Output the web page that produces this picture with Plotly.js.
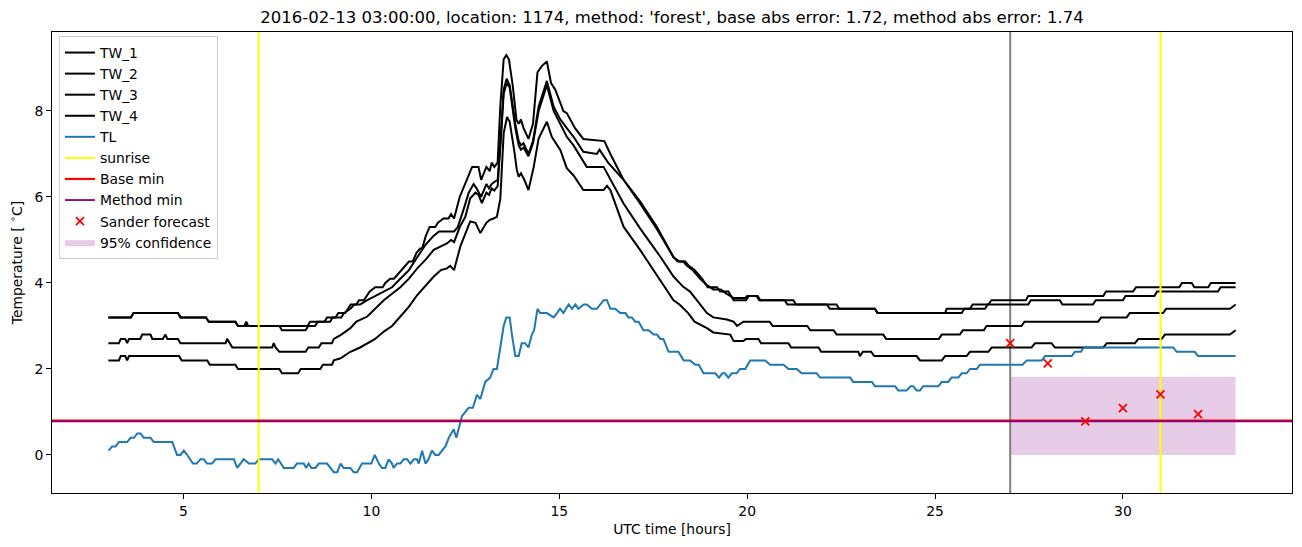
<!DOCTYPE html>
<html>
<head>
<meta charset="utf-8">
<script src="https://cdn.plot.ly/plotly-3.0.1.min.js"></script>
<style>html,body{margin:0;padding:0;background:#fff;}#chart{width:1302px;height:547px;}</style>
</head>
<body>
<div id="chart"></div>
<script>
// ---------------- data ----------------
const tw1T = [3.0,3.6,3.67,4.85,4.92,5.6,5.67,6.38,6.45,6.62,6.67,6.72,8.3,8.37,8.75,8.82,9.05,9.12,9.3,9.37,9.45,9.6,9.67,9.8,9.87,9.95,10.1,10.3,10.37,10.5,10.6,10.7,10.8,10.9,11.0,11.1,11.2,11.3,11.35,11.45,11.55,11.7,11.77,11.92,12.05,12.12,12.2,12.35,12.54,12.68,12.77,12.85,12.92,13.06,13.15,13.2,13.27,13.36,13.43,13.52,13.59,13.66,13.76,13.86,13.92,13.98,14.05,14.18,14.3,14.42,14.54,14.67,14.78,14.89,14.98,15.11,15.2,15.42,15.64,16.2,16.36,16.71,17.15,17.6,18.04,18.15,18.3,18.4,18.55,18.75,18.93,19.1,19.3,19.45,19.64,19.95,20.0,20.28,20.35,21.23,21.3,22.12,22.2,23.4,23.47,25.27,25.31,25.93,26.0,26.42,26.5,27.42,27.48,29.48,29.55,30.27,30.35,31.5,31.57,31.83,31.9,32.27,32.34,33.0];
const tw1V = [3.2,3.2,3.3,3.3,3.2,3.2,3.1,3.1,3.0,3.0,3.1,3.0,3.0,3.1,3.1,3.2,3.2,3.3,3.3,3.4,3.5,3.5,3.6,3.6,3.7,3.8,3.9,3.9,4.0,4.1,4.1,4.2,4.3,4.4,4.5,4.5,4.7,4.8,4.8,5.1,5.3,5.3,5.4,5.5,5.5,5.6,5.5,6.0,6.4,6.7,6.7,6.7,6.4,6.7,6.6,6.8,6.7,6.8,8.1,9.2,9.3,9.2,8.6,7.8,7.7,7.8,7.6,7.35,7.7,8.9,9.05,9.15,8.65,8.5,8.3,8.0,7.95,7.6,7.35,7.3,7.0,6.4,5.9,5.3,4.6,4.5,4.5,4.4,4.3,4.1,3.95,3.85,3.85,3.75,3.65,3.65,3.7,3.7,3.6,3.6,3.5,3.5,3.4,3.4,3.3,3.3,3.4,3.4,3.5,3.5,3.6,3.6,3.7,3.7,3.8,3.8,3.9,3.9,4.0,4.0,3.9,3.9,4.0,4.0];

const tw2T = [3.0,3.6,3.67,4.85,4.92,5.6,5.67,6.38,6.45,7.55,7.62,8.25,8.32,8.5,8.57,8.9,8.97,9.2,9.27,9.44,9.55,9.7,9.89,10.1,10.33,10.55,10.77,11.0,11.22,11.45,11.66,11.8,12.2,12.3,12.45,12.59,12.72,12.8,12.92,13.06,13.13,13.2,13.27,13.36,13.45,13.52,13.6,13.68,13.83,13.92,13.98,14.05,14.18,14.3,14.45,14.67,14.85,15.03,15.2,15.38,15.64,16.0,16.07,16.15,16.3,16.71,17.15,17.6,18.04,18.2,18.35,18.45,18.6,18.8,18.95,19.2,19.28,19.5,19.64,19.97,20.04,20.25,20.32,21.0,21.07,22.38,22.45,23.4,23.47,25.71,25.78,26.33,26.4,27.48,27.55,28.32,28.39,29.2,29.28,30.0,30.07,30.84,30.91,32.53,32.6,33.0];
const tw2V = [3.2,3.2,3.3,3.3,3.2,3.2,3.1,3.1,3.0,3.0,2.9,2.9,3.0,3.0,3.1,3.1,3.2,3.2,3.3,3.4,3.5,3.5,3.6,3.7,3.8,3.9,4.1,4.3,4.6,4.9,5.1,5.2,5.2,5.3,5.7,6.1,6.3,6.2,6.0,6.3,6.2,6.3,6.35,6.4,7.5,8.5,8.75,8.6,7.7,7.3,7.2,7.25,7.0,7.3,8.1,8.7,8.1,7.8,7.6,7.4,7.05,7.0,7.1,7.0,6.8,6.4,5.85,5.25,4.6,4.5,4.5,4.4,4.3,4.1,3.9,3.9,3.8,3.8,3.6,3.6,3.7,3.7,3.6,3.6,3.5,3.5,3.4,3.4,3.3,3.3,3.4,3.4,3.5,3.5,3.6,3.6,3.5,3.5,3.6,3.6,3.7,3.7,3.8,3.8,3.9,3.9];

const tw3T = [3.0,3.28,3.33,3.45,3.5,3.55,3.85,3.9,4.12,4.17,4.45,4.52,4.57,4.85,4.92,6.12,6.16,6.22,6.3,7.36,7.4,7.45,7.55,8.25,8.32,8.6,8.67,8.95,9.0,9.2,9.44,9.6,9.89,10.1,10.33,10.55,10.77,11.0,11.22,11.45,11.66,12.01,12.12,12.2,12.35,12.5,12.63,12.77,12.85,12.94,13.06,13.13,13.2,13.27,13.36,13.45,13.52,13.6,13.68,13.83,13.92,13.98,14.05,14.18,14.3,14.45,14.67,14.85,15.03,15.2,15.38,15.64,15.73,16.18,16.3,16.71,17.15,17.69,18.04,18.3,18.48,18.7,18.93,19.1,19.46,19.64,19.73,19.9,20.6,20.68,21.6,21.68,22.3,22.38,23.62,23.7,25.1,25.18,25.66,25.74,26.3,26.37,27.3,27.38,29.34,29.42,30.1,30.18,31.07,31.15,32.85,33.0];
const tw3V = [2.6,2.6,2.7,2.7,2.6,2.7,2.7,2.8,2.8,2.7,2.7,2.8,2.7,2.7,2.6,2.6,2.7,2.6,2.5,2.5,2.6,2.5,2.4,2.4,2.5,2.5,2.6,2.6,2.7,2.8,2.95,3.1,3.22,3.4,3.6,3.75,3.9,4.1,4.34,4.55,4.77,4.92,5.0,4.95,5.3,5.54,5.97,6.1,6.05,5.86,6.1,6.05,6.2,6.15,6.25,7.4,8.4,8.65,8.55,7.6,7.2,7.1,7.15,6.95,7.25,8.0,8.6,8.0,7.7,7.4,7.2,6.85,6.7,6.7,6.5,5.85,5.27,4.61,4.15,3.91,3.8,3.55,3.3,3.2,3.15,3.1,3.0,3.1,3.1,3.0,3.0,2.9,2.9,2.8,2.8,2.7,2.7,2.8,2.8,2.9,2.9,3.0,3.0,3.1,3.1,3.2,3.2,3.3,3.3,3.4,3.4,3.5];

const tw4T = [3.0,3.28,3.33,3.45,3.5,3.55,4.88,4.95,5.63,5.7,6.38,6.45,7.55,7.62,8.05,8.12,8.64,8.71,8.95,9.0,9.18,9.44,9.7,9.89,10.1,10.33,10.55,10.77,11.0,11.22,11.45,11.66,11.85,12.01,12.1,12.2,12.37,12.5,12.63,12.77,12.9,13.06,13.15,13.25,13.34,13.43,13.52,13.61,13.68,13.8,13.87,13.92,13.98,14.07,14.18,14.32,14.45,14.67,14.8,15.03,15.2,15.38,15.64,16.18,16.27,16.36,16.71,17.15,17.69,18.04,18.2,18.43,18.6,18.93,19.1,19.55,19.64,19.9,19.97,20.3,20.37,21.1,21.17,21.9,21.97,22.96,23.0,23.08,23.3,23.38,24.51,24.6,25.18,25.27,25.84,25.93,26.42,26.51,27.57,27.66,28.1,28.19,29.48,29.57,30.32,30.41,31.03,31.12,32.85,33.0];
const tw4V = [2.2,2.2,2.3,2.3,2.2,2.3,2.3,2.2,2.2,2.1,2.1,2.0,2.0,1.9,1.9,2.0,2.0,2.1,2.1,2.2,2.25,2.4,2.5,2.6,2.7,2.87,3.0,3.22,3.45,3.72,3.95,4.15,4.3,4.34,4.4,4.3,4.86,5.16,5.43,5.4,5.16,5.4,5.47,5.5,5.54,5.95,7.48,7.86,7.75,7.09,6.63,6.47,6.55,6.4,6.16,6.7,7.36,7.75,7.4,7.09,6.67,6.5,6.16,6.16,6.26,6.16,5.31,4.77,4.07,3.6,3.5,3.3,3.1,2.95,2.85,2.8,2.65,2.65,2.7,2.7,2.6,2.6,2.5,2.5,2.4,2.4,2.3,2.4,2.4,2.3,2.3,2.2,2.2,2.3,2.3,2.4,2.4,2.5,2.5,2.6,2.6,2.5,2.5,2.6,2.6,2.7,2.7,2.8,2.8,2.9];

const tlT = [3.01,3.10,3.19,3.28,3.50,3.59,3.68,3.77,3.86,3.94,4.12,4.21,4.70,4.83,4.92,5.01,5.10,5.25,5.35,5.45,5.54,5.63,5.76,5.85,6.34,6.43,6.60,6.74,6.91,7.00,7.36,7.45,7.52,7.67,7.93,8.02,8.20,8.26,8.33,8.40,8.51,8.60,8.82,9.00,9.09,9.18,9.26,9.44,9.53,9.62,9.75,10.00,10.09,10.20,10.28,10.37,10.46,10.55,10.59,10.68,10.77,10.86,10.95,11.04,11.13,11.21,11.26,11.35,11.44,11.52,11.61,11.70,11.79,11.88,11.97,12.06,12.19,12.26,12.35,12.41,12.50,12.59,12.70,12.81,12.90,13.03,13.16,13.25,13.34,13.43,13.52,13.59,13.68,13.74,13.83,13.92,14.00,14.09,14.18,14.27,14.33,14.42,14.49,14.67,14.85,14.94,15.02,15.11,15.25,15.34,15.43,15.51,15.65,15.73,15.87,16.00,16.09,16.18,16.27,16.36,16.49,16.62,16.76,16.84,16.93,17.02,17.11,17.24,17.38,17.51,17.60,17.69,17.77,17.91,18.17,18.31,18.48,18.62,18.71,18.84,19.15,19.25,19.34,19.41,19.50,19.59,19.72,19.81,19.95,20.08,20.48,20.61,20.97,21.10,21.32,21.45,21.85,21.94,22.74,22.82,23.32,23.40,23.94,24.02,24.24,24.35,24.42,24.51,24.60,24.68,25.09,25.18,25.35,25.44,25.62,25.71,25.84,25.93,26.11,26.20,27.33,27.44,27.84,27.93,28.64,28.72,28.88,28.96,31.34,31.43,31.91,32.00,33.0];
const tlV = [0.1,0.2,0.2,0.3,0.3,0.4,0.4,0.5,0.5,0.4,0.4,0.3,0.3,0.0,0.0,0.1,0.0,-0.2,-0.2,-0.1,-0.1,-0.2,-0.2,-0.1,-0.1,-0.3,-0.1,-0.2,-0.2,-0.1,-0.1,-0.2,-0.1,-0.3,-0.3,-0.2,-0.2,-0.3,-0.2,-0.3,-0.3,-0.2,-0.2,-0.4,-0.4,-0.2,-0.3,-0.3,-0.4,-0.4,-0.2,-0.2,0.0,-0.2,-0.3,-0.3,-0.1,-0.2,-0.3,-0.2,-0.2,-0.1,-0.1,-0.2,-0.1,-0.1,-0.2,0.1,-0.2,-0.1,0.1,0.0,0.0,0.1,0.2,0.4,0.6,0.4,0.7,0.9,1.0,1.1,1.1,1.4,1.3,1.7,1.8,2.0,2.0,2.5,3.0,3.2,3.2,2.8,2.3,2.3,2.6,2.6,2.5,2.8,2.9,3.4,3.3,3.3,3.2,3.3,3.4,3.3,3.5,3.4,3.5,3.4,3.5,3.5,3.4,3.4,3.5,3.6,3.6,3.4,3.4,3.3,3.3,3.2,3.2,3.1,3.1,2.9,2.9,2.8,2.8,2.7,2.7,2.4,2.4,2.2,2.2,2.1,2.1,1.9,1.9,1.8,1.9,1.9,1.8,1.9,1.9,2.0,2.0,2.2,2.2,2.1,2.1,2.0,2.0,1.9,1.9,1.8,1.8,1.7,1.7,1.6,1.6,1.5,1.5,1.6,1.6,1.5,1.5,1.6,1.6,1.7,1.7,1.8,1.8,1.9,1.9,2.0,2.0,2.1,2.1,2.2,2.2,2.3,2.3,2.4,2.4,2.5,2.5,2.4,2.4,2.3,2.3];

const sunriseHours = [7, 31];
const forecastStart = 27;
const baseMin = 0.8;
const methodMin = 0.78;
const sanderHours = [27, 28, 29, 30, 31, 32];
const sanderValues = [2.6, 2.13, 0.78, 1.09, 1.41, 0.95];
const confHours = [27, 33];
const confLow = 0.0;
const confHigh = 1.82;

const xTicks = [5, 10, 15, 20, 25, 30];
const yTicks = [0, 2, 4, 6, 8];

// ---------------- chart ----------------
const X_RANGE = [1.5, 34.5];
const Y_RANGE = [-0.884, 9.837];
const FONT = 'DejaVu Sans, sans-serif';

const traces = [];
traces.push({
  x: [confHours[0], confHours[1], confHours[1], confHours[0], confHours[0]],
  y: [confLow, confLow, confHigh, confHigh, confLow],
  mode: 'lines', fill: 'toself', fillcolor: 'rgba(128,0,128,0.2)',
  line: {width: 0, color: 'rgba(128,0,128,0)'},
  name: '95% confidence', legendrank: 10
});
traces.push({
  x: [forecastStart, forecastStart], y: Y_RANGE, mode: 'lines',
  line: {color: '#808080', width: 2}, showlegend: false
});
const tws = [[tw1T, tw1V], [tw2T, tw2V], [tw3T, tw3V], [tw4T, tw4V]];
tws.forEach((s, i) => traces.push({
  x: s[0], y: s[1], mode: 'lines', name: 'TW_' + (i + 1),
  line: {color: '#000000', width: 2}, legendrank: i + 1
}));
traces.push({x: tlT, y: tlV, mode: 'lines', name: 'TL',
  line: {color: '#1f77b4', width: 2}, legendrank: 5});
const sx = [], sy = [];
sunriseHours.forEach((h, i) => { if (i) { sx.push(null); sy.push(null); } sx.push(h, h); sy.push(Y_RANGE[0], Y_RANGE[1]); });
traces.push({x: sx, y: sy, mode: 'lines', name: 'sunrise',
  line: {color: '#ffff00', width: 2}, legendrank: 6});
traces.push({x: X_RANGE, y: [baseMin, baseMin], mode: 'lines', name: 'Base min',
  line: {color: '#ff0000', width: 2.2}, legendrank: 7});
traces.push({x: X_RANGE, y: [methodMin, methodMin], mode: 'lines', name: 'Method min',
  line: {color: '#800080', width: 1.8}, legendrank: 8});
traces.push({x: sanderHours, y: sanderValues, mode: 'markers', name: 'Sander forecast',
  marker: {symbol: 'x-thin', size: 8, color: '#ff0000', line: {color: '#ff0000', width: 1.8}}, legendrank: 9});

const axisCommon = {
  showline: true, mirror: true, linecolor: '#000', linewidth: 1,
  ticks: 'outside', ticklen: 5, tickwidth: 1, tickcolor: '#000',
  showgrid: false, zeroline: false, tickfont: {size: 13.9, color: '#000', family: FONT}
};

const layout = {
  width: 1302, height: 547,
  margin: {l: 52, r: 10, t: 32, b: 54},
  paper_bgcolor: '#fff', plot_bgcolor: '#fff',
  font: {family: FONT, color: '#000'},
  title: {
    text: "2016-02-13 03:00:00, location: 1174, method: 'forest', base abs error: 1.72, method abs error: 1.74",
    font: {size: 16.5, family: FONT, color: '#000'},
    x: 0.5, xref: 'paper', xanchor: 'center', y: 1 - 17 / 547, yref: 'container', yanchor: 'middle'
  },
  xaxis: Object.assign({}, axisCommon, {
    range: X_RANGE, tickvals: xTicks, ticktext: xTicks.map(String),
    title: {text: 'UTC time [hours]', font: {size: 13.9, family: FONT, color: '#000'}, standoff: 6}
  }),
  yaxis: Object.assign({}, axisCommon, {
    range: Y_RANGE, tickvals: yTicks, ticktext: yTicks.map(String),
    title: {text: 'Temperature [ <sup>∘</sup>C]', font: {size: 13.9, family: FONT, color: '#000'}, standoff: 8}
  }),
  showlegend: true,
  legend: {
    x: 0.0056, y: 0.9913, xanchor: 'left', yanchor: 'top',
    bgcolor: 'rgba(255,255,255,0.8)', bordercolor: '#cccccc', borderwidth: 1,
    font: {size: 13.9, family: FONT, color: '#000'},
    traceorder: 'normal', tracegroupgap: 0
  }
};

Plotly.newPlot('chart', traces, layout, {staticPlot: true, displayModeBar: false});
</script>
</body>
</html>
